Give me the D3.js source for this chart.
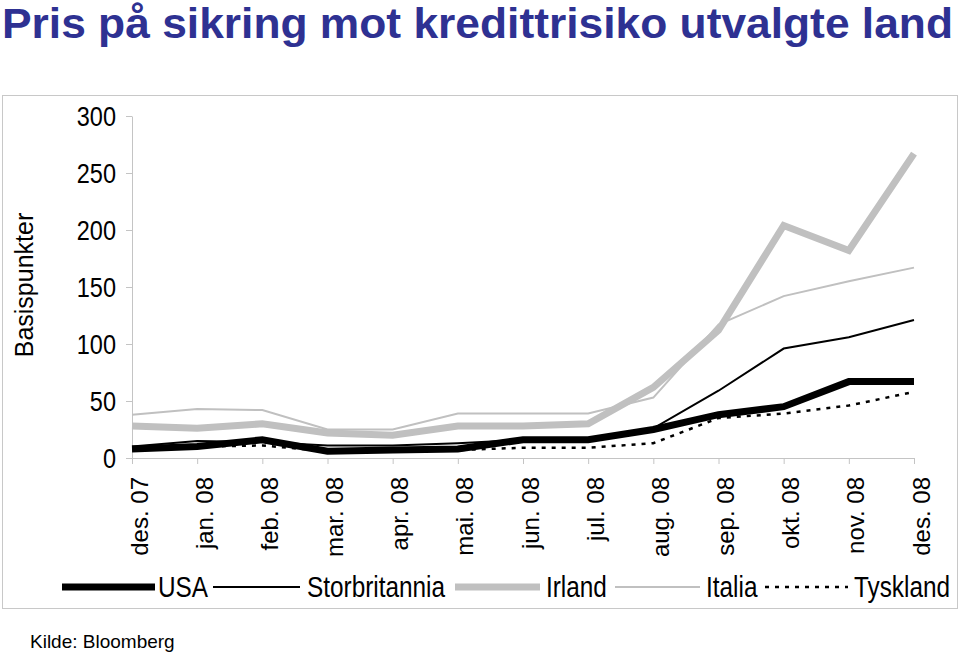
<!DOCTYPE html>
<html><head><meta charset="utf-8">
<script src="https://cdnjs.cloudflare.com/ajax/libs/d3/7.8.5/d3.min.js"></script>
<style>body{margin:0;background:#fff}svg{display:block}</style>
</head><body>
<svg id="c" width="960" height="652"></svg>
<script>
const months = ["des. 07","jan. 08","feb. 08","mar. 08","apr. 08","mai. 08","jun. 08","jul. 08","aug. 08","sep. 08","okt. 08","nov. 08","des. 08"];
const usa           = [8, 10, 16, 6, 7, 8, 16, 16, 25, 38, 45, 67, 67];
const storbritannia = [10, 15, 14, 11, 11, 13, 16, 16, 26, 59, 96, 106, 121];
const irland        = [28, 26, 30, 22, 20, 28, 28, 30, 62, 112, 204, 182, 267];
const italia        = [38, 43, 42, 25, 25, 39, 39, 39, 53, 117, 142, 155, 167];
const tyskland      = [8, 10, 11, 6, 7, 7, 9, 9, 13, 35, 39, 46, 58];
const yTicks = [0, 50, 100, 150, 200, 250, 300];

const series = [
  {name:"USA", values:usa, color:"#000", width:7, dash:null},
  {name:"Storbritannia", values:storbritannia, color:"#000", width:2, dash:null},
  {name:"Irland", values:irland, color:"#c0c0c0", width:7, dash:null},
  {name:"Italia", values:italia, color:"#c0c0c0", width:2, dash:null},
  {name:"Tyskland", values:tyskland, color:"#000", width:2.5, dash:"4,6"}
];

const svg = d3.select("#c");
const font = "'Liberation Sans', Arial, Helvetica, sans-serif";
const axisColor = "#c4c4c4";

// Title
svg.append("text").attr("x",2).attr("y",38)
  .attr("font-family",font).attr("font-weight","bold").attr("font-size",43)
  .attr("fill","#2e3192").attr("textLength",951).attr("lengthAdjust","spacingAndGlyphs")
  .text("Pris på sikring mot kredittrisiko utvalgte land");

// Frame
svg.append("rect").attr("x",2.5).attr("y",95.5).attr("width",955).attr("height",513)
  .attr("fill","none").attr("stroke","#c8c8c8").attr("stroke-width",1);

const x = d3.scalePoint().domain(months).range([132, 914]);
const y = d3.scaleLinear().domain([0,300]).range([458,116]);

// Y axis
const yAx = svg.append("g").attr("transform","translate(132,0)")
  .call(d3.axisLeft(y).tickValues(yTicks).tickSize(6).tickSizeOuter(0).tickPadding(0));
yAx.select(".domain").attr("stroke",axisColor);
yAx.selectAll(".tick line").attr("stroke",axisColor);
yAx.selectAll(".tick text").remove();
yAx.selectAll(".tick").append("text")
  .attr("transform","translate(-16,9) scale(0.84,1)")
  .attr("text-anchor","end").attr("fill","#000")
  .attr("font-family",font).attr("font-size",28)
  .text(d=>d);

// X axis
const xAx = svg.append("g").attr("transform","translate(0,458)")
  .call(d3.axisBottom(x).tickSize(6).tickSizeOuter(0));
xAx.select(".domain").attr("stroke",axisColor);
xAx.selectAll(".tick line").attr("stroke",axisColor);
xAx.selectAll(".tick text")
  .attr("transform","translate(15,19) rotate(-90)")
  .attr("x",0).attr("y",0).attr("dy",0)
  .attr("text-anchor","end").attr("fill","#000")
  .attr("font-family",font).attr("font-size",24);

// Y title
svg.append("text").attr("transform","translate(33,285) rotate(-90)")
  .attr("text-anchor","middle").attr("font-family",font).attr("font-size",25)
  .text("Basispunkter");

// Lines
const line = d3.line().x((d,i)=>x(months[i])).y(d=>y(d));
svg.append("g").selectAll("path").data(series).join("path")
  .attr("d",d=>line(d.values))
  .attr("fill","none").attr("stroke",d=>d.color).attr("stroke-width",d=>d.width)
  .attr("stroke-dasharray",d=>d.dash).attr("stroke-linejoin","miter");

// Legend
const legendPos = [{x1:62,x2:155,tx:158},{x1:213,x2:300,tx:307},{x1:455,x2:540,tx:546},{x1:615,x2:700,tx:706},{x1:765,x2:848,tx:854}];
const lg = svg.append("g");
series.forEach((s,i)=>{
  const p = legendPos[i];
  lg.append("line").attr("x1",p.x1).attr("x2",p.x2).attr("y1",587).attr("y2",587)
    .attr("stroke",s.color).attr("stroke-width",s.width).attr("stroke-dasharray",s.dash);
  lg.append("text").attr("transform",`translate(${p.tx},597) scale(0.84,1)`)
    .attr("font-family",font).attr("font-size",29).text(s.name);
});

// Source
svg.append("text").attr("x",30).attr("y",648).attr("font-family",font).attr("font-size",19)
  .text("Kilde: Bloomberg");
</script>
</body></html>
